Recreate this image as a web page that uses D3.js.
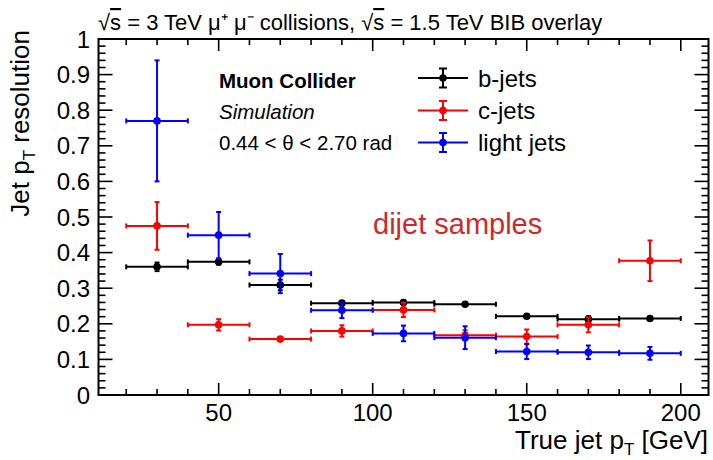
<!DOCTYPE html>
<html><head><meta charset="utf-8">
<script src="https://cdn.jsdelivr.net/npm/d3@7"></script>
<style>body{margin:0;background:#fff}text{font-family:"Liberation Sans",Arial,sans-serif}</style>
</head><body><svg id="c" width="713" height="460"></svg>
<script>
const binCenters = [30, 50, 70, 90, 110, 130, 150, 170, 190];
const binHalfWidth = 10;
const bJets = [0.360, 0.374, 0.309, 0.258, 0.260, 0.255, 0.221, 0.213, 0.215];
const bJetsErr = [0.012, 0.008, 0.015, 0.006, 0.006, 0.005, 0.005, 0.008, 0.005];
const cJets = [0.475, 0.197, 0.157, 0.180, 0.239, 0.168, 0.164, 0.197, 0.377];
const cJetsErr = [0.067, 0.016, 0.005, 0.016, 0.020, 0.014, 0.020, 0.021, 0.057];
const lightJets = [0.770, 0.449, 0.341, 0.238, 0.173, 0.161, 0.122, 0.120, 0.117];
const lightJetsErr = [0.170, 0.065, 0.055, 0.022, 0.022, 0.032, 0.021, 0.019, 0.018];
const seriesNames = ["b-jets", "c-jets", "light jets"];
const seriesColors = ["#000000", "#ff0000", "#0000ff"];
const xTicks = [50, 100, 150, 200];
const yTicks = [0, 0.1, 0.2, 0.3, 0.4, 0.5, 0.6, 0.7, 0.8, 0.9, 1];

const svg = d3.select("#c");
const L = 98.5, R = 708.5, T = 39, B = 395;
const x = d3.scaleLinear().domain([11, 209]).range([L, R]);
const y = d3.scaleLinear().domain([0, 1]).range([B, T]);

// Frame
svg.append("rect").attr("x", L).attr("y", T).attr("width", R - L).attr("height", B - T)
  .attr("fill", "none").attr("stroke", "#000").attr("stroke-width", 2);

// Ticks
const g = svg.append("g").attr("stroke", "#000").attr("stroke-width", 1.6);
const xMinor = d3.range(20, 210, 10);
xMinor.forEach(v => {
  const major = v % 50 === 0;
  const len = major ? 12 : 6;
  g.append("line").attr("x1", x(v)).attr("x2", x(v)).attr("y1", B).attr("y2", B - len);
  g.append("line").attr("x1", x(v)).attr("x2", x(v)).attr("y1", T).attr("y2", T + len);
});
const yMinor = d3.range(0, 51).map(i => i * 0.02);
yMinor.forEach((v, i) => {
  const major = i % 5 === 0;
  const len = major ? 14 : 7;
  g.append("line").attr("x1", L).attr("x2", L + len).attr("y1", y(v)).attr("y2", y(v));
  g.append("line").attr("x1", R).attr("x2", R - len).attr("y1", y(v)).attr("y2", y(v));
});

// Tick labels
svg.append("g").selectAll("text").data(yTicks).join("text")
  .attr("x", 90).attr("y", d => y(d) + 8.5).attr("text-anchor", "end")
  .attr("font-size", 24).text(d => d === 0 ? "0" : d === 1 ? "1" : d3.format(".1f")(d));
svg.append("g").selectAll("text").data(xTicks).join("text")
  .attr("x", d => x(d)).attr("y", 421).attr("text-anchor", "middle")
  .attr("font-size", 24).text(d => d);

// Axis titles
const xt = svg.append("text").attr("x", 708).attr("y", 449).attr("text-anchor", "end").attr("font-size", 26);
xt.append("tspan").text("True jet p");
xt.append("tspan").attr("font-size", 17).attr("dy", 6).text("T");
xt.append("tspan").attr("dy", -6).text(" [GeV]");

const yt = svg.append("text").attr("transform", "translate(29,30) rotate(-90)")
  .attr("text-anchor", "end").attr("font-size", 26);
yt.append("tspan").text("Jet p");
yt.append("tspan").attr("font-size", 17).attr("dy", 6).text("T");
yt.append("tspan").attr("dy", -6).text(" resolution");

// Title
const tt = svg.append("text").attr("x", 98).attr("y", 30).attr("font-size", 22);
tt.append("tspan").text("√");
tt.append("tspan").attr("text-decoration", "overline").text("s");
tt.append("tspan").text(" = 3 TeV μ⁺ μ⁻ collisions, √");
tt.append("tspan").attr("text-decoration", "overline").text("s");
tt.append("tspan").text(" = 1.5 TeV BIB overlay");

// Labels
svg.append("text").attr("x", 219).attr("y", 88).attr("font-size", 20.5).attr("font-weight", "bold").text("Muon Collider");
svg.append("text").attr("x", 219).attr("y", 118.5).attr("font-size", 20.5).attr("font-style", "italic").text("Simulation");
svg.append("text").attr("x", 219).attr("y", 149.5).attr("font-size", 20.5).text("0.44 < θ < 2.70 rad");
svg.append("text").attr("x", 373).attr("y", 234).attr("font-size", 29).attr("fill", "#cc2a2a").text("dijet samples");

// Data
const allSeries = [
  {vals: bJets, errs: bJetsErr},
  {vals: cJets, errs: cJetsErr},
  {vals: lightJets, errs: lightJetsErr}
];
const cap = 2.5;
allSeries.forEach((s, si) => {
  const col = seriesColors[si];
  const sg = svg.append("g").attr("stroke", col).attr("fill", col).attr("stroke-width", 2);
  binCenters.forEach((c, i) => {
    const v = s.vals[i], e = s.errs[i];
    const x0 = x(c - binHalfWidth), x1 = x(c + binHalfWidth), yc = y(v);
    sg.append("line").attr("x1", x0).attr("x2", x1).attr("y1", yc).attr("y2", yc);
    sg.append("line").attr("x1", x0).attr("x2", x0).attr("y1", yc - cap).attr("y2", yc + cap);
    sg.append("line").attr("x1", x1).attr("x2", x1).attr("y1", yc - cap).attr("y2", yc + cap);
    const ya = y(v + e), yb = y(v - e);
    sg.append("line").attr("x1", x(c)).attr("x2", x(c)).attr("y1", ya).attr("y2", yb);
    sg.append("line").attr("x1", x(c) - cap).attr("x2", x(c) + cap).attr("y1", ya).attr("y2", ya);
    sg.append("line").attr("x1", x(c) - cap).attr("x2", x(c) + cap).attr("y1", yb).attr("y2", yb);
    sg.append("circle").attr("cx", x(c)).attr("cy", yc).attr("r", 3.8).attr("stroke", "none");
  });
});

// Legend
const legY = [78, 110.5, 142.5];
seriesNames.forEach((n, i) => {
  const col = seriesColors[i];
  const lg = svg.append("g").attr("stroke", col).attr("fill", col).attr("stroke-width", 2);
  const cx = 443, cy = legY[i];
  lg.append("line").attr("x1", 418).attr("x2", 468).attr("y1", cy).attr("y2", cy);
  lg.append("line").attr("x1", cx).attr("x2", cx).attr("y1", cy - 9.5).attr("y2", cy + 9.5);
  lg.append("line").attr("x1", cx - 4).attr("x2", cx + 4).attr("y1", cy - 9.5).attr("y2", cy - 9.5);
  lg.append("line").attr("x1", cx - 4).attr("x2", cx + 4).attr("y1", cy + 9.5).attr("y2", cy + 9.5);
  lg.append("circle").attr("cx", cx).attr("cy", cy).attr("r", 3.8).attr("stroke", "none");
  svg.append("text").attr("x", 478).attr("y", cy + 8.5).attr("font-size", 24).text(n);
});
</script></body></html>
